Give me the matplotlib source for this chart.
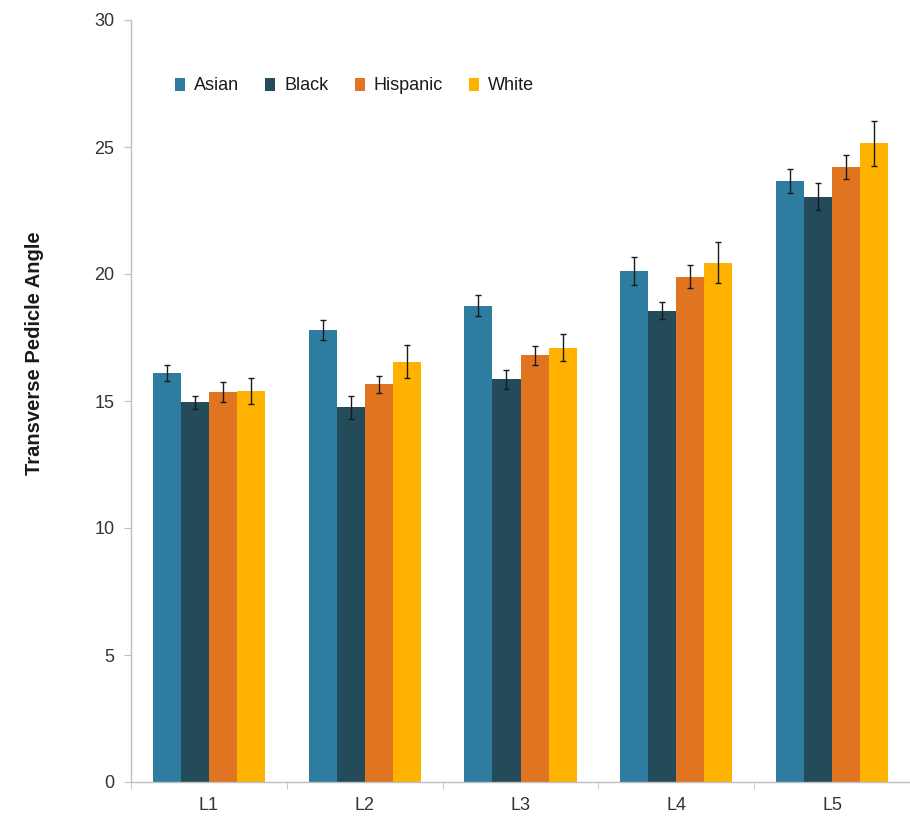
import matplotlib
matplotlib.use("Agg")
import matplotlib.pyplot as plt
import numpy as np

plt.rcParams['font.family'] = ['Liberation Sans', 'DejaVu Sans']

levels = ["L1", "L2", "L3", "L4", "L5"]
groups = ["Asian", "Black", "Hispanic", "White"]

asian = [16.1, 17.8, 18.75, 20.1, 23.65]
black = [14.95, 14.75, 15.85, 18.55, 23.05]
hispanic = [15.35, 15.65, 16.8, 19.9, 24.2]
white = [15.4, 16.55, 17.1, 20.45, 25.15]

asian_err = [0.32, 0.38, 0.42, 0.55, 0.47]
black_err = [0.25, 0.45, 0.39, 0.33, 0.52]
hispanic_err = [0.38, 0.33, 0.38, 0.45, 0.47]
white_err = [0.5, 0.65, 0.52, 0.8, 0.88]

yticks = [0, 5, 10, 15, 20, 25, 30]

series = [asian, black, hispanic, white]
errors = [asian_err, black_err, hispanic_err, white_err]
colors = ["#2E7CA0", "#244B5A", "#E07421", "#FFB300"]

W, H = 910, 817
fig = plt.figure(figsize=(W / 100, H / 100), dpi=100)
ax = fig.add_axes([131 / W, 35 / H, (W - 131) / W, (782 - 20) / H])

x = np.arange(len(levels))
bw = 0.18
for i, (vals, errs, col, name) in enumerate(zip(series, errors, colors, groups)):
    pos = x - 1.5 * bw + i * bw
    ax.bar(pos, vals, width=bw, color=col, label=name, edgecolor='none')
    ax.errorbar(pos, vals, yerr=errs, fmt='none', ecolor='#1a1a1a',
                elinewidth=1.0, capsize=2, capthick=1.0)

ax.set_ylim(0, 30)
ax.set_xlim(-0.5, -0.5 + (W - 131) / 158)
ax.set_yticks(yticks)
ax.set_xticks(x)
ax.set_xticklabels(levels)
ax.set_xticks(np.arange(-0.5, len(levels), 1.0), minor=True)

for s in ['top', 'right']:
    ax.spines[s].set_visible(False)
for s in ['left', 'bottom']:
    ax.spines[s].set_color('#BFBFBF')
    ax.spines[s].set_linewidth(1.0)

ax.tick_params(axis='y', direction='out', length=5, color='#BFBFBF',
               labelsize=13, labelcolor='#333333', pad=7)
ax.tick_params(axis='x', which='major', length=0, labelsize=13,
               labelcolor='#333333', pad=11)
ax.tick_params(axis='x', which='minor', direction='out', length=5,
               color='#BFBFBF')

fig.text(35 / W, 1 - 353 / H, "Transverse Pedicle Angle", rotation=90,
         ha='center', va='center', fontsize=14.5, fontweight='bold',
         color='#1a1a1a')

fig.legend(loc='center left', bbox_to_anchor=(175 / W, 1 - 86 / H),
           ncol=4, frameon=False, fontsize=13, handlelength=0.55,
           handleheight=0.75, handletextpad=0.5, columnspacing=1.45,
           borderpad=0, borderaxespad=0, labelcolor='#1a1a1a')

fig.savefig("out.png", dpi=100)
